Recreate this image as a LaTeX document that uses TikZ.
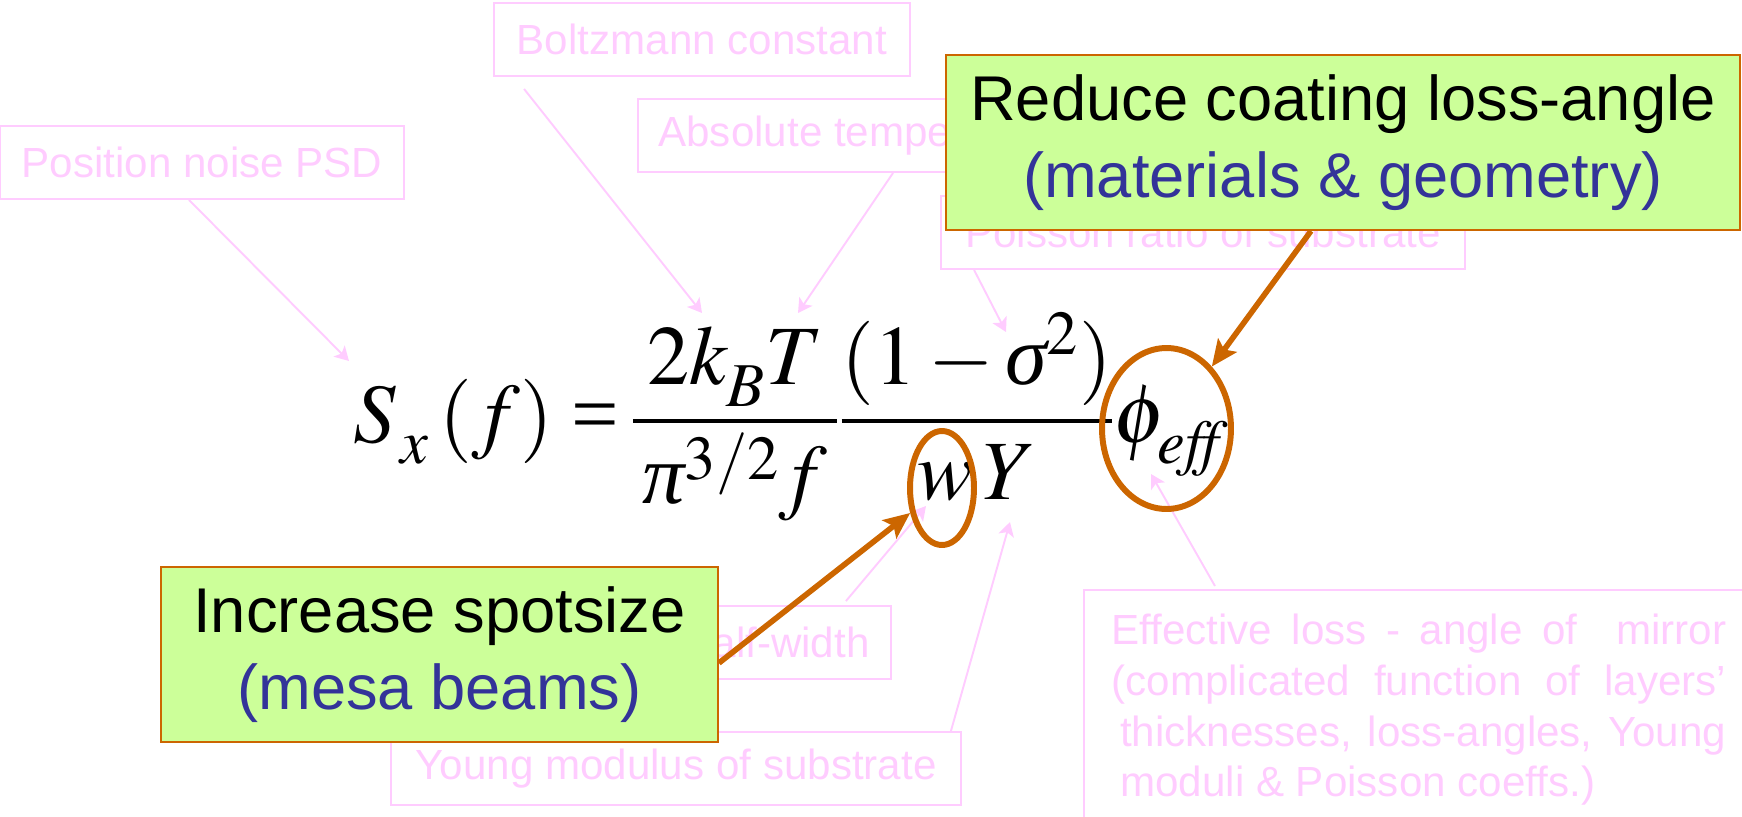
\documentclass[tikz,border=0pt]{standalone}
\usepackage{mathptmx}
\usepackage{amsmath}
\usepackage[no-math]{fontspec}
\setmainfont{Liberation Sans}
\newfontfamily\eqnserif{Liberation Serif}
\usetikzlibrary{arrows.meta, shapes.geometric}
\definecolor{LabelPink}{HTML}{FFCCFF}
\definecolor{LimeFill}{HTML}{CCFF99}
\definecolor{RustEdge}{HTML}{CC6600}
\definecolor{NoteBlue}{HTML}{333399}
\newcommand{\lowsub}[1]{\raisebox{-5pt}{$\scriptstyle #1$}}
\newcommand{\eqgreek}[1]{\text{\eqnserif\itshape #1}}

\begin{document}
\begin{tikzpicture}[
  x=0.02cm, y=-0.02cm,
  pinkbox/.style={rectangle, draw=LabelPink, line width=1.1pt, text=LabelPink, minimum height=1.46cm, inner sep=0pt, font=\fontsize{24}{28.8}\selectfont},
  tipbox/.style={rectangle, draw=RustEdge, line width=1.1pt, fill=LimeFill, minimum height=3.5cm, inner sep=0pt, align=center, font=\fontsize{36}{44}\selectfont},
  ring/.style={ellipse, draw=RustEdge, line width=3.4pt, inner sep=0pt},
  pinkarrow/.style={-{Stealth[length=8pt,width=9pt,inset=2pt]}, LabelPink, line width=1.1pt},
  rustarrow/.style={-{Stealth[length=15pt,width=13pt,inset=3pt]}, RustEdge, line width=3.2pt}
]
  \useasboundingbox (0,0) rectangle (1742,816);

  \node[pinkbox, minimum width=8.08cm] (psd) at (202,162.5) {Position noise PSD};
  \node[pinkbox, minimum width=8.32cm] (boltz) at (702,39.5) {Boltzmann constant};
  \node[pinkbox, minimum width=8.88cm] (abstemp) at (860,135.5) {Absolute temperature};
  \node[pinkbox, minimum width=10.48cm] (poisson) at (1203,232.5) {Poisson ratio of substrate};
  \node[pinkbox, minimum width=6.9cm] (halfw) at (718.5,642.5) {Beam half-width};
  \node[pinkbox, minimum width=11.4cm] (young) at (676,768.5) {Young modulus of substrate};
  \node[pinkbox, anchor=north west, minimum width=13.4cm, minimum height=4.8cm, text width=350pt, align=justify] (effloss) at (1083,589)
    {Effective loss - angle of \ mirror\linebreak (complicated function of layers’\linebreak \hspace*{5pt}thicknesses, loss-angles, Young\linebreak \hspace*{5pt}moduli \& Poisson coeffs.)};

  \node[anchor=base west, inner sep=0pt, font=\fontsize{48}{58}\selectfont] (formula) at (353,442)
    {$\displaystyle {S\mkern1mu}_{\lowsub{x}}\,(f) \mathrel{\text{\eqnserif =}}\mkern-1.5mu \frac{\mkern3mu 2k_{\lowsub{B}}T\mkern3mu}{\eqgreek{π}^{3/2}f}\frac{(1-\eqgreek{σ}^2)}{w\,Y}\phi_{\lowsub{\mathit{eff}}}$};

  \coordinate (psdtip) at (349,361);
  \coordinate (kbtip) at (702,313);
  \coordinate (temptip) at (798,313);
  \coordinate (sigmatip) at (1006,332);
  \coordinate (wtip) at (926,506);
  \coordinate (ytip) at (1010,522);
  \coordinate (phitip) at (1151,474);

  \draw[pinkarrow] ([xshift=-0.26cm]psd.south) -- (psdtip);
  \draw[pinkarrow] ([xshift=0.62cm, yshift=-0.24cm]boltz.south west) -- (kbtip);
  \draw[pinkarrow] ([xshift=5.12cm]abstemp.south west) -- (temptip);
  \draw[pinkarrow] ([xshift=0.68cm]poisson.south west) -- (sigmatip);
  \draw[pinkarrow] ([xshift=-0.92cm, yshift=0.08cm]halfw.north east) -- (wtip);
  \draw[pinkarrow] ([xshift=-0.22cm]young.north east) -- (ytip);
  \draw[pinkarrow] ([xshift=2.64cm, yshift=0.06cm]effloss.north west) -- (phitip);

  \node[tipbox, minimum width=15.88cm] (reduce) at (1343,142.5) {Reduce coating loss-angle\\\textcolor{NoteBlue}{(materials \& geometry)}};
  \node[tipbox, minimum width=11.14cm] (increase) at (439.5,654.5) {Increase spotsize\\\textcolor{NoteBlue}{(mesa beams)}};

  \node[ring, minimum width=1.28cm, minimum height=2.28cm] (wring) at (942,488) {};
  \node[ring, minimum width=2.58cm, minimum height=3.22cm] (phiring) at (1166.5,428.5) {};

  \draw[rustarrow] ([xshift=-0.64cm]reduce.south) -- (phiring);
  \draw[rustarrow] ([yshift=-0.17cm]increase.east) -- (wring);
\end{tikzpicture}
\end{document}
